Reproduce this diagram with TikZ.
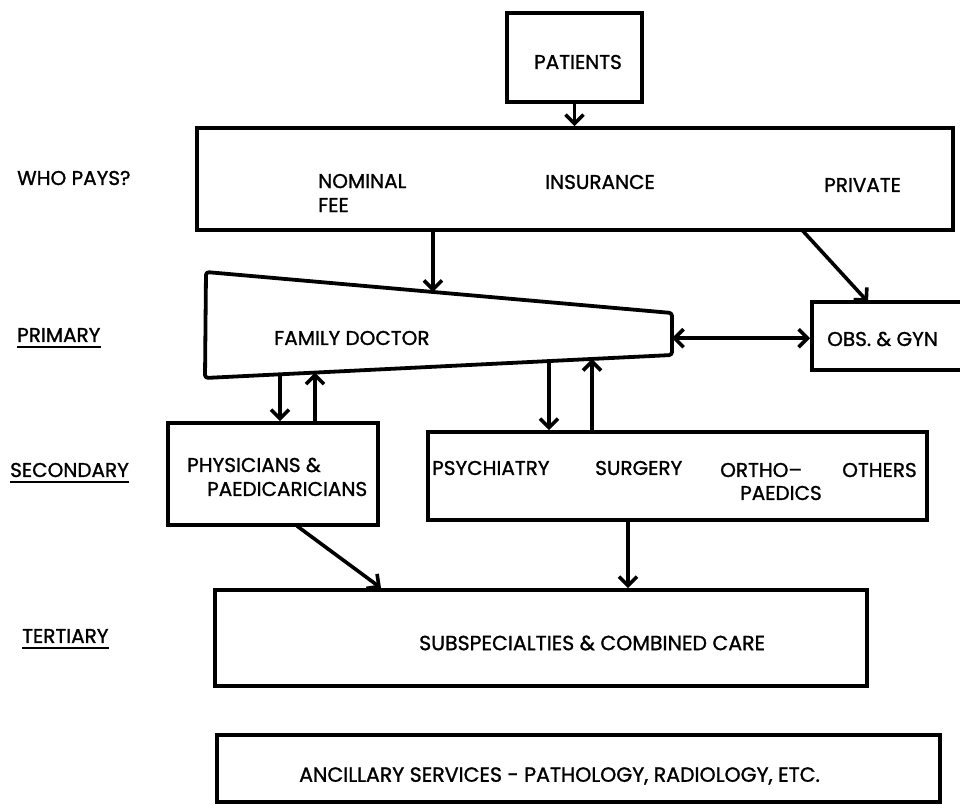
\documentclass[tikz,border=0pt]{standalone}
\usepackage{fontspec}
\setmainfont[FakeBold=1.2]{Poppins}
\usetikzlibrary{arrows.meta,calc}
\tikzset{
  box/.style={draw, line width=3.8pt, inner sep=0pt},
  lbl/.style={inner sep=0pt, font=\fontsize{20}{24}\selectfont},
  clbl/.style={inner sep=0pt, font=\fontsize{20.5}{24}\selectfont},
  arr/.style={line width=3.6pt, -{Straight Barb[length=9pt,width=18pt]}},
  darr/.style={line width=3.6pt, {Straight Barb[length=9pt,width=18pt]}-{Straight Barb[length=9pt,width=18pt]}},
  uline/.style={line width=1.8pt}
}
\begin{document}
\begin{tikzpicture}[x=1pt,y=-1pt]
\useasboundingbox (0,0) rectangle (960,808);
\clip (0,0) rectangle (960,808);
% boxes
\node[box, minimum width=135, minimum height=89] (pat) at (574.5,57.5) {};
\node[box, minimum width=756, minimum height=102] (who) at (575,179) {};
\node[box, minimum width=198, minimum height=68] (obs) at (911,336) {};
\node[box, minimum width=210, minimum height=102] (phys) at (273,474) {};
\node[box, minimum width=499, minimum height=88] (spec) at (677.5,476) {};
\node[box, minimum width=652, minimum height=96] (tert) at (541,638) {};
\node[box, minimum width=723, minimum height=67] (anc) at (578.5,768.5) {};
% family doctor trapezoid
\coordinate (fdTL) at (206,272);
\coordinate (fdTR) at (672,313);
\coordinate (fdBR) at (672,355);
\coordinate (fdBL) at (205,378);
\draw[line width=3.8pt, line join=round, rounded corners=3pt] (fdTL) -- (fdTR) -- (fdBR) -- (fdBL) -- cycle;
\coordinate (fdTop) at ($(fdTL)!0.487!(fdTR)$);
\coordinate (fdR) at ($(fdTR)!0.6!(fdBR)$);
\coordinate (fdB1) at ($(fdBL)!0.1606!(fdBR)$);
\coordinate (fdB2) at ($(fdBL)!0.2355!(fdBR)$);
\coordinate (fdB3) at ($(fdBL)!0.7366!(fdBR)$);
\coordinate (fdB4) at ($(fdBL)!0.8287!(fdBR)$);
% texts
\node[lbl] (patT) at (578,62) {PATIENTS};
\node[lbl, anchor=west] (whoL) at (17,178) {WHO PAYS?};
\node[lbl, anchor=west, align=left] (nom) at (318,193) {NOMINAL\\FEE};
\node[lbl, anchor=west] (ins) at (545,182) {INSURANCE};
\node[lbl, anchor=west] (priv) at (824,185) {PRIVATE};
\node[lbl, anchor=west] (prim) at (17,335) {PRIMARY};
\node[lbl, anchor=west] (fd) at (274,338) {FAMILY DOCTOR};
\node[lbl, anchor=west] (obsT) at (827,339) {OBS. \& GYN};
\node[lbl, anchor=west] (sec) at (10,470) {SECONDARY};
\node[lbl, anchor=west] (physA) at (187,465) {PHYSICIANS \&};
\node[lbl, anchor=west] (physB) at (207,489) {PAEDICARICIANS};
\node[lbl, anchor=west] (psy) at (432,468) {PSYCHIATRY};
\node[lbl, anchor=west] (sur) at (595,468) {SURGERY};
\node[lbl, anchor=west] (ort) at (720,470) {ORTHO--};
\node[lbl, anchor=west] (pae) at (740,493) {PAEDICS};
\node[lbl, anchor=west] (oth) at (842,470) {OTHERS};
\node[lbl, anchor=west] (ter) at (22,636) {TERTIARY};
\node[clbl, anchor=west] (tertT) at (419,643) {SUBSPECIALTIES \& COMBINED CARE};
\node[clbl, anchor=west] (ancT) at (299,776) {ANCILLARY SERVICES - PATHOLOGY, RADIOLOGY, ETC.};
% underlines
\draw[uline] ([yshift=-5pt]prim.south west) -- ([yshift=-5pt]prim.south east);
\draw[uline] ([yshift=-5pt]sec.south west) -- ([yshift=-5pt]sec.south east);
\draw[uline] ([yshift=-5pt]ter.south west) -- ([yshift=-5pt]ter.south east);
% connectors
\coordinate (whoP) at (802,230);
\coordinate (obsN) at (868,302);
\coordinate (physOut) at (297,526);
\coordinate (tertIn) at (381,588);
\coordinate (spx) at (628,0);
\draw[arr] (pat.south) -- (pat.south |- who.north);
\draw[arr] (fdTop |- who.south) -- (fdTop);
\draw[arr] (whoP) -- (obsN);
\draw[darr] (fdR) -- (fdR -| obs.west);
\draw[arr] (fdB1) -- (fdB1 |- phys.north);
\draw[arr] (fdB2 |- phys.north) -- (fdB2);
\draw[arr] (fdB3) -- (fdB3 |- spec.north);
\draw[arr] (fdB4 |- spec.north) -- (fdB4);
\draw[arr] (physOut) -- (tertIn);
\draw[arr] (spx |- spec.south) -- (spx |- tert.north);
\end{tikzpicture}
\end{document}
